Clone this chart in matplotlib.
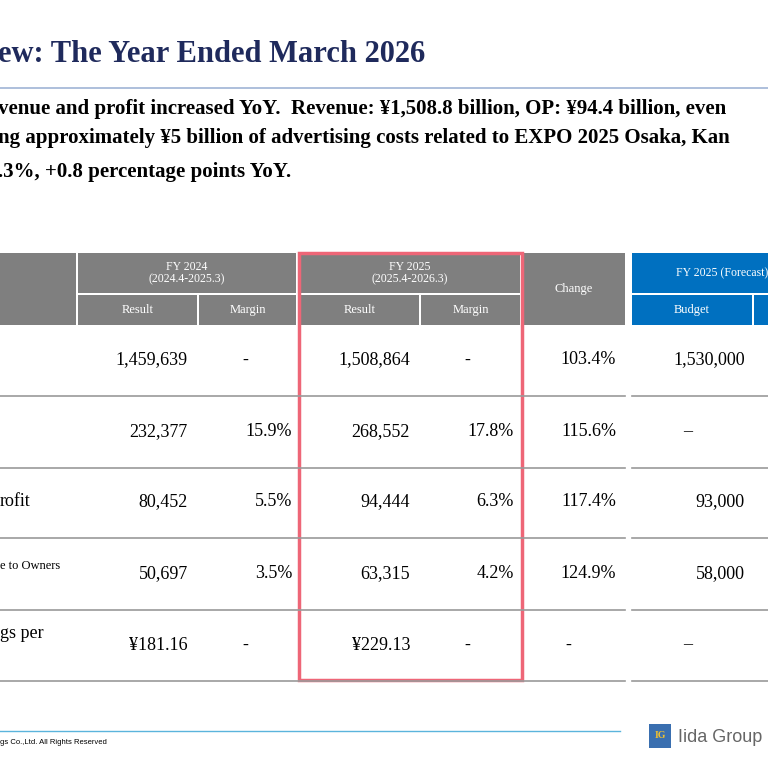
import matplotlib
matplotlib.use("Agg")
import matplotlib.pyplot as plt
from matplotlib.patches import Rectangle

title = "ew: The Year Ended March 2026"
body = ["venue and profit increased YoY.  Revenue: ¥1,508.8 billion, OP: ¥94.4 billion, even",
        "ng approximately ¥5 billion of advertising costs related to EXPO 2025 Osaka, Kan",
        ".3%, +0.8 percentage points YoY."]
row_labels = ["", "", "rofit", "e to Owners", "gs per"]
fy24_result = ["1,459,639", "232,377", "80,452", "50,697", "¥181.16"]
fy24_margin = ["-", "15.9%", "5.5%", "3.5%", "-"]
fy25_result = ["1,508,864", "268,552", "94,444", "63,315", "¥229.13"]
fy25_margin = ["-", "17.8%", "6.3%", "4.2%", "-"]
change = ["103.4%", "115.6%", "117.4%", "124.9%", "-"]
budget = ["1,530,000", "–", "93,000", "58,000", "–"]

SERIF = ["Liberation Serif", "DejaVu Serif"]
fig = plt.figure(figsize=(7.68, 7.68), dpi=100)
ax = fig.add_axes([0, 0, 1, 1])
ax.set_xlim(0, 768); ax.set_ylim(768, 0); ax.axis("off")

ax.text(-2, 55, title, fontsize=22, fontweight="bold", color="#1f2a5c", family=SERIF, va="center")
ax.plot([0, 768], [88, 88], color="#9fb4d6", lw=1.2)
for y, t in zip([109, 138, 172], body):
    ax.text(-2, y, t, fontsize=15, fontweight="bold", family=SERIF, va="center")

gray = "#7f7f7f"; blue = "#0070c0"
def cell(x0, x1, y0, y1, c, txt="", fs=9):
    ax.add_patch(Rectangle((x0, y0), x1 - x0, y1 - y0, color=c, lw=0))
    if txt:
        ax.text((x0 + x1) / 2, (y0 + y1) / 2, txt, color="white", fontsize=fs, family=SERIF,
                ha="center", va="center", linespacing=1.1)
cell(0, 76, 253, 325, gray)
cell(78, 296, 253, 293, gray, "FY 2024\n(2024.4-2025.3)", 8.5)
cell(78, 197, 295, 325, gray, "Result")
cell(199, 296, 295, 325, gray, "Margin")
cell(300, 520, 253, 293, gray, "FY 2025\n(2025.4-2026.3)", 8.5)
cell(300, 419, 295, 325, gray, "Result")
cell(421, 520, 295, 325, gray, "Margin")
cell(522, 625, 253, 325, gray, "Change")
ax.add_patch(Rectangle((632, 253), 200, 40, color=blue, lw=0))
ax.text(676, 273, "FY 2025 (Forecast)", color="white", fontsize=8.5, family=SERIF, va="center")
cell(632, 752, 295, 325, blue, "Budget")
cell(754, 800, 295, 325, blue)

ys = [360, 432, 502, 574, 645]
for i, y in enumerate(ys):
    sep = y + 36
    ax.plot([0, 625], [sep, sep], color="#9a9a9a", lw=1.2)
    ax.plot([632, 768], [sep, sep], color="#9a9a9a", lw=1.2)
    kw = dict(fontsize=13, family=SERIF, va="center")
    ax.text(0, y - (8 if i == 3 else 0) - (12 if i == 4 else 0), row_labels[i],
            fontsize=9 if i == 3 else 13, family=SERIF, va="center")
    ax.text(188, y, fy24_result[i], ha="right", **kw)
    if fy24_margin[i] == "-":
        ax.text(245, y, "-", ha="center", **kw)
    else:
        ax.text(292, y, fy24_margin[i], ha="right", **kw)
    ax.text(410, y, fy25_result[i], ha="right", **kw)
    if fy25_margin[i] == "-":
        ax.text(467, y, "-", ha="center", **kw)
    else:
        ax.text(514, y, fy25_margin[i], ha="right", **kw)
    if change[i] == "-":
        ax.text(568, y, "-", ha="center", **kw)
    else:
        ax.text(616, y, change[i], ha="right", **kw)
    if budget[i] == "–":
        ax.text(688, y, "–", ha="center", **kw)
    else:
        ax.text(745, y, budget[i], ha="right", **kw)

ax.add_patch(Rectangle((299, 253), 223, 427, fill=False, ec="#ee6677", lw=2.5))

ax.plot([0, 620], [731, 731], color="#5bb4dc", lw=1)
ax.text(0, 743, "gs Co.,Ltd. All Rights Reserved", fontsize=5.5, family="Liberation Sans", va="center")
ax.add_patch(Rectangle((649, 724), 22, 24, color="#3a6fb0", lw=0))
ax.text(660, 736, "IG", fontsize=7, color="#f0c030", fontweight="bold", ha="center", va="center", family=SERIF)
ax.text(678, 737, "Iida Group", fontsize=13, color="#666666", family="Liberation Sans", va="center")

fig.savefig("out.png", dpi=100)
